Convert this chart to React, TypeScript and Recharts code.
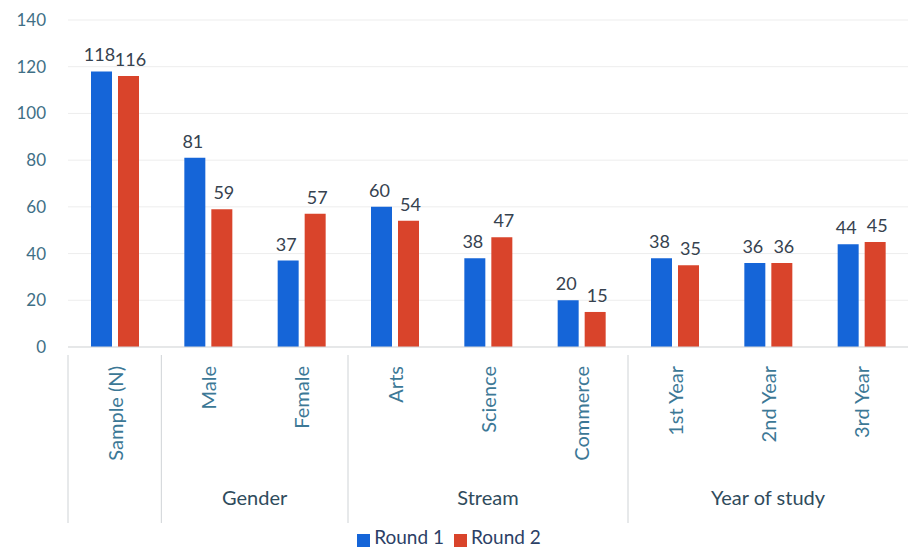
import { Bar, BarChart, CartesianGrid, LabelList, Legend, XAxis, YAxis } from "recharts";

const categories = ["Sample (N)", "Male", "Female", "Arts", "Science", "Commerce", "1st Year", "2nd Year", "3rd Year"];
const round1 = [118, 81, 37, 60, 38, 20, 38, 36, 44];
const round2 = [116, 59, 57, 54, 47, 15, 35, 36, 45];
const yTicks = [0, 20, 40, 60, 80, 100, 120, 140];

// group label, first category index, number of categories
const groups: [string, number, number][] = [
  ["Gender", 1, 2],
  ["Stream", 3, 3],
  ["Year of study", 6, 3],
];
const separatorsAt = [0, 1, 3, 6];

const data = categories.map((name, i) => ({ name, r1: round1[i], r2: round2[i] }));

const W = 910;
const H = 555;
const MARGIN = { top: 20, right: 2, left: 0, bottom: 0 };
const Y_W = 68;
const BAND = (W - MARGIN.left - MARGIN.right - Y_W) / categories.length;
const FONT = "Lato, 'Open Sans', sans-serif";

function CategoryTick(props: any) {
  const { x, y, payload, index } = props;
  const group = groups.find((g) => g[1] === index);
  return (
    <g>
      {separatorsAt.includes(index) && (
        <line x1={x - BAND / 2} x2={x - BAND / 2} y1={y} y2={y + 168} stroke="#cfd3d6" strokeWidth={1} />
      )}
      <text
        x={x}
        y={y + 11}
        transform={`rotate(-90 ${x} ${y + 11})`}
        textAnchor="end"
        dominantBaseline="central"
        fill="#3c7896"
        fontSize={20}
        fontFamily={FONT}
      >
        {payload.value}
      </text>
      {group && (
        <text
          x={x + ((group[2] - 1) * BAND) / 2}
          y={y + 150}
          textAnchor="middle"
          fill="#2f4b5c"
          fontSize={20}
          fontFamily={FONT}
        >
          {group[0]}
        </text>
      )}
    </g>
  );
}

function ValueLabel(props: any) {
  const { x, y, width, value, shift } = props;
  return (
    <text
      x={x + width / 2 + shift}
      y={y - 10}
      textAnchor="middle"
      fill="#36424f"
      fontSize={18}
      fontFamily={FONT}
    >
      {value}
    </text>
  );
}

export default function App() {
  return (
    <div style={{ position: "absolute", left: 0, top: 0, background: "#fff" }}>
      <BarChart width={W} height={H} data={data} margin={MARGIN} barGap={6} barSize={21}>
        <CartesianGrid vertical={false} stroke="#ededed" />
        <XAxis
          dataKey="name"
          interval={0}
          height={178}
          tickLine={false}
          axisLine={{ stroke: "#d6d9db" }}
          tick={<CategoryTick />}
        />
        <YAxis
          width={Y_W}
          domain={[0, 140]}
          ticks={yTicks}
          axisLine={false}
          tickLine={false}
          tickSize={0}
          tickMargin={22}
          tick={{ fill: "#3f6f86", fontSize: 17, fontFamily: FONT }}
        />
        <Legend
          verticalAlign="bottom"
          height={30}
          iconType="square"
          iconSize={13}
          formatter={(value) => (
            <span style={{ color: "#2b4066", fontSize: 19, fontFamily: FONT }}>{value}</span>
          )}
        />
        <Bar dataKey="r1" name="Round 1" fill="#1565d8" isAnimationActive={false}>
          <LabelList dataKey="r1" content={<ValueLabel shift={-2} />} />
        </Bar>
        <Bar dataKey="r2" name="Round 2" fill="#d9442b" isAnimationActive={false}>
          <LabelList dataKey="r2" content={<ValueLabel shift={2} />} />
        </Bar>
      </BarChart>
    </div>
  );
}
